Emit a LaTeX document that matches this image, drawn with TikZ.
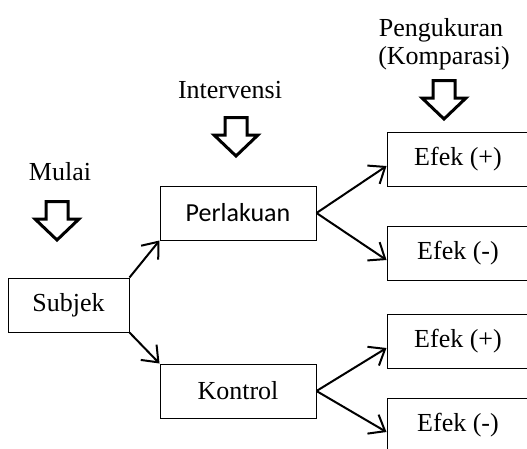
\documentclass[tikz,border=0pt]{standalone}
\usepackage{fontspec}
\setmainfont{Liberation Serif}
\newfontfamily\carlito{Carlito}
\usetikzlibrary{arrows.meta}

\begin{document}
\begin{tikzpicture}[x=1pt,y=-1pt,
    huruf/.style={font=\fontsize{26}{30}\selectfont},
    kotak/.style={draw,line width=1pt,minimum height=54pt,inner sep=0pt,huruf},
    panah/.style={-{Straight Barb[length=14pt,width=22pt]},line width=2pt},
    tebal/.style={line width=3pt,miter limit=10}]
\clip (0,0) rectangle (527,448);
\node[kotak,minimum width=121pt] (subjek) at (68.5,305) {Subjek};
\node[kotak,minimum width=156pt,font=\carlito\fontsize{26}{30}\selectfont] (perlakuan) at (238,213) {Perlakuan};
\node[kotak,minimum width=156pt] (kontrol) at (238,391) {Kontrol};
\foreach \y/\t [count=\i] in {159/+,253/-,341/+,425/-}
\node[kotak,minimum width=142pt] (efek\i) at (458,\y) {Efek (\t)};
\node[huruf,anchor=base] (mulai) at (60,180) {Mulai};
\node[huruf,anchor=base] (intervensi) at (230,98) {Intervensi};
\node[huruf,anchor=base] (ukur) at (441,36) {Pengukuran};
\node[huruf,anchor=base] (komparasi) at (444,64) {(Komparasi)};
\foreach \x/\y in {57/200,236/116,444/79}
\draw[tebal] (\x-11,\y+1.5) -- (\x+11,\y+1.5) -- (\x+11,\y+19) -- (\x+22,\y+19) -- (\x,\y+40) -- (\x-22,\y+19) -- (\x-11,\y+19) -- cycle;
\draw[panah] (subjek.north east) -- (perlakuan.south west);
\draw[panah] (subjek.south east) -- (kontrol.north west);
\draw[panah] (perlakuan.east) -- ([yshift=-7pt]efek1.west);
\draw[panah] (perlakuan.east) -- ([yshift=-7pt]efek2.west);
\draw[panah] (kontrol.east) -- ([yshift=-7pt]efek3.west);
\draw[panah] (kontrol.east) -- ([yshift=-7pt]efek4.west);
\end{tikzpicture}
\end{document}
